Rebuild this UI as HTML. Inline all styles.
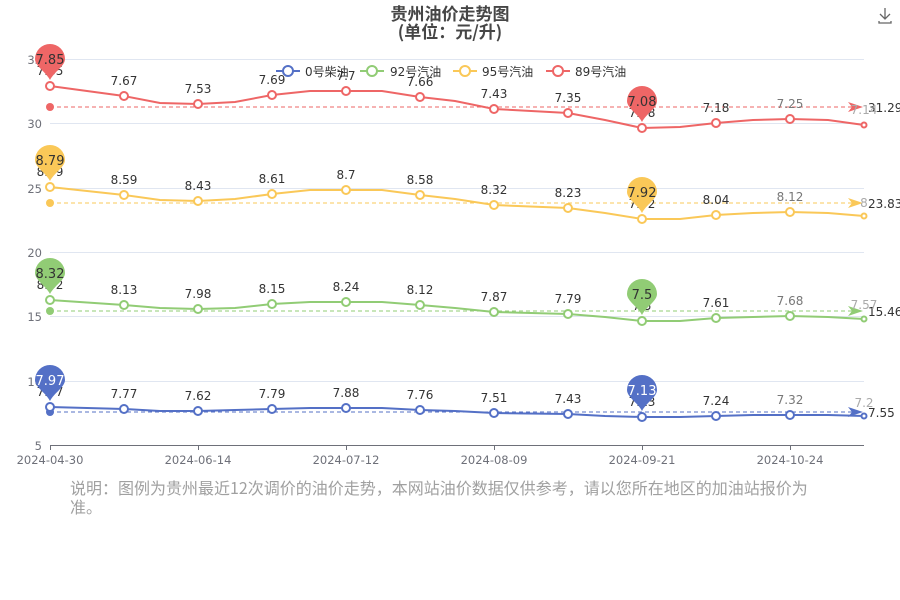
<!DOCTYPE html><html><head><meta charset="utf-8"><style>body{margin:0;background:#fff}svg{display:block;font-family:"DejaVu Sans","Noto Sans CJK SC",sans-serif}</style></head><body>
<svg width="900" height="600" viewBox="0 0 900 600">
<text x="450" y="20" text-anchor="middle" font-size="17" font-weight="bold" fill="#464646" font-family="Noto Sans CJK SC,sans-serif">贵州油价走势图</text>
<text x="450" y="38" text-anchor="middle" font-size="17" font-weight="bold" fill="#464646" font-family="Noto Sans CJK SC,sans-serif">(单位：元/升)</text>
<g stroke="#666" stroke-width="1.3" fill="none"><path d="M885 8v11M880 14l5 5 5-5M879 21v2h12v-2"/></g>
<g stroke="#e0e6f1" stroke-width="1"><path d="M50 59.5H864M50 123.5H864M50 188.5H864M50 252.5H864M50 316.5H864M50 381.5H864"/></g>
<path d="M50 445.5H864" stroke="#6e7079"/>
<g stroke="#6e7079"><path d="M50.5 445v5M198.5 445v5M346.5 445v5M494.5 445v5M642.5 445v5M790.5 445v5"/></g>
<g font-size="11.5" fill="#6e7079" text-anchor="end"><text x="42" y="64">35</text><text x="42" y="128">30</text><text x="42" y="193">25</text><text x="42" y="257">20</text><text x="42" y="321">15</text><text x="42" y="386">10</text><text x="42" y="450">5</text></g>
<g font-size="11.5" fill="#6e7079" text-anchor="middle"><text x="50" y="464">2024-04-30</text><text x="198" y="464">2024-06-14</text><text x="346" y="464">2024-07-12</text><text x="494" y="464">2024-08-09</text><text x="642" y="464">2024-09-21</text><text x="790" y="464">2024-10-24</text></g>
<g font-size="12" fill="#333" stroke-width="2">
<path d="M276 71h24" stroke="#5470c6"/><circle cx="288" cy="71" r="5" fill="#fff" stroke="#5470c6"/><text x="305" y="76" stroke="none">0号柴油</text>
<path d="M360 71h24" stroke="#91cc75"/><circle cx="372" cy="71" r="5" fill="#fff" stroke="#91cc75"/><text x="390" y="76" stroke="none">92号汽油</text>
<path d="M453 71h24" stroke="#fac858"/><circle cx="465" cy="71" r="5" fill="#fff" stroke="#fac858"/><text x="482" y="76" stroke="none">95号汽油</text>
<path d="M546 71h24" stroke="#ee6666"/><circle cx="558" cy="71" r="5" fill="#fff" stroke="#ee6666"/><text x="575" y="76" stroke="none">89号汽油</text>
</g>
<g stroke-dasharray="4,3" stroke-width="1">
<path d="M50 107H855" stroke="#ee6666"/><path d="M50 203H855" stroke="#fac858"/><path d="M50 311H855" stroke="#91cc75"/><path d="M50 412H855" stroke="#5470c6"/></g>
<circle cx="50" cy="107" r="4" fill="#ee6666"/><circle cx="50" cy="203" r="4" fill="#fac858"/><circle cx="50" cy="311" r="4" fill="#91cc75"/><circle cx="50" cy="412" r="4" fill="#5470c6"/>
<path d="M848 102l15 5-15 5 4-5z" fill="#ee6666"/><path d="M848 198l15 5-15 5 4-5z" fill="#fac858"/><path d="M848 306l15 5-15 5 4-5z" fill="#91cc75"/><path d="M848 407l15 5-15 5 4-5z" fill="#5470c6"/>
<g font-size="12" fill="#333"><text x="868" y="112">31.29</text><text x="868" y="208">23.83</text><text x="868" y="316">15.46</text><text x="868" y="417">7.55</text></g>
<g fill="none" stroke-width="2">
<polyline stroke="#ee6666" points="50,86 124,96 160,103 198,104 235,102 272,95 310,91 346,91 382,91 420,97 455,101 494,109 568,113 605,120 642,128 680,127 716,123 753,120 790,119 828,120 864,125"/>
<polyline stroke="#fac858" points="50,187 124,195 160,200 198,201 235,199 272,194 310,190 346,190 382,190 420,195 455,199 494,205 568,208 605,213 642,219 680,219 716,215 753,213 790,212 828,213 864,216"/>
<polyline stroke="#91cc75" points="50,300 124,305 160,308 198,309 235,308 272,304 310,302 346,302 382,302 420,305 455,308 494,312 568,314 605,317 642,321 680,321 716,318 753,317 790,316 828,317 864,319"/>
<polyline stroke="#5470c6" points="50,407 124,409 160,411 198,411 235,410 272,409 310,408 346,408 382,408 420,410 455,411 494,413 568,414 605,416 642,417 680,417 716,416 753,415 790,415 828,415 864,416"/>
</g>
<g fill="#fff" stroke-width="2">
<g stroke="#ee6666"><circle cx="50" cy="86" r="4"/><circle cx="124" cy="96" r="4"/><circle cx="198" cy="104" r="4"/><circle cx="272" cy="95" r="4"/><circle cx="346" cy="91" r="4"/><circle cx="420" cy="97" r="4"/><circle cx="494" cy="109" r="4"/><circle cx="568" cy="113" r="4"/><circle cx="642" cy="128" r="4"/><circle cx="716" cy="123" r="4"/><circle cx="790" cy="119" r="4"/><circle cx="864" cy="125" r="2.5"/></g>
<g stroke="#fac858"><circle cx="50" cy="187" r="4"/><circle cx="124" cy="195" r="4"/><circle cx="198" cy="201" r="4"/><circle cx="272" cy="194" r="4"/><circle cx="346" cy="190" r="4"/><circle cx="420" cy="195" r="4"/><circle cx="494" cy="205" r="4"/><circle cx="568" cy="208" r="4"/><circle cx="642" cy="219" r="4"/><circle cx="716" cy="215" r="4"/><circle cx="790" cy="212" r="4"/><circle cx="864" cy="216" r="2.5"/></g>
<g stroke="#91cc75"><circle cx="50" cy="300" r="4"/><circle cx="124" cy="305" r="4"/><circle cx="198" cy="309" r="4"/><circle cx="272" cy="304" r="4"/><circle cx="346" cy="302" r="4"/><circle cx="420" cy="305" r="4"/><circle cx="494" cy="312" r="4"/><circle cx="568" cy="314" r="4"/><circle cx="642" cy="321" r="4"/><circle cx="716" cy="318" r="4"/><circle cx="790" cy="316" r="4"/><circle cx="864" cy="319" r="2.5"/></g>
<g stroke="#5470c6"><circle cx="50" cy="407" r="4"/><circle cx="124" cy="409" r="4"/><circle cx="198" cy="411" r="4"/><circle cx="272" cy="409" r="4"/><circle cx="346" cy="408" r="4"/><circle cx="420" cy="410" r="4"/><circle cx="494" cy="413" r="4"/><circle cx="568" cy="414" r="4"/><circle cx="642" cy="417" r="4"/><circle cx="716" cy="416" r="4"/><circle cx="790" cy="415" r="4"/><circle cx="864" cy="416" r="2.5"/></g>
</g>
<g font-size="12" fill="#333" text-anchor="middle">
<text x="50" y="75">7.85</text><text x="124" y="85">7.67</text><text x="198" y="93">7.53</text><text x="272" y="84">7.69</text><text x="346" y="80">7.7</text><text x="420" y="86">7.66</text><text x="494" y="98">7.43</text><text x="568" y="102">7.35</text><text x="642" y="117">7.08</text><text x="716" y="112">7.18</text><text x="790" y="108" fill="#777">7.25</text><text x="864" y="114" fill="#aaa">7.14</text>
<text x="50" y="176">8.79</text><text x="124" y="184">8.59</text><text x="198" y="190">8.43</text><text x="272" y="183">8.61</text><text x="346" y="179">8.7</text><text x="420" y="184">8.58</text><text x="494" y="194">8.32</text><text x="568" y="197">8.23</text><text x="642" y="208">7.92</text><text x="716" y="204">8.04</text><text x="790" y="201" fill="#777">8.12</text><text x="864" y="207" fill="#aaa">8</text>
<text x="50" y="289">8.32</text><text x="124" y="294">8.13</text><text x="198" y="298">7.98</text><text x="272" y="293">8.15</text><text x="346" y="291">8.24</text><text x="420" y="294">8.12</text><text x="494" y="301">7.87</text><text x="568" y="303">7.79</text><text x="642" y="310">7.5</text><text x="716" y="307">7.61</text><text x="790" y="305" fill="#777">7.68</text><text x="864" y="309" fill="#aaa">7.57</text>
<text x="50" y="396">7.97</text><text x="124" y="398">7.77</text><text x="198" y="400">7.62</text><text x="272" y="398">7.79</text><text x="346" y="397">7.88</text><text x="420" y="399">7.76</text><text x="494" y="402">7.51</text><text x="568" y="403">7.43</text><text x="642" y="406">7.13</text><text x="716" y="405">7.24</text><text x="790" y="404" fill="#777">7.32</text><text x="864" y="407" fill="#aaa">7.2</text>
</g>
<g>
<path d="M50 80C46 72 35 66 35 59A15 15 0 1 1 65 59C65 66 54 72 50 80Z" fill="#ee6666"/>
<path d="M642 122C638 114 627 108 627 101A15 15 0 1 1 657 101C657 108 646 114 642 122Z" fill="#ee6666"/>
<path d="M50 181C46 173 35 167 35 160A15 15 0 1 1 65 160C65 167 54 173 50 181Z" fill="#fac858"/>
<path d="M642 213C638 205 627 199 627 192A15 15 0 1 1 657 192C657 199 646 205 642 213Z" fill="#fac858"/>
<path d="M50 294C46 286 35 280 35 273A15 15 0 1 1 65 273C65 280 54 286 50 294Z" fill="#91cc75"/>
<path d="M642 315C638 307 627 301 627 294A15 15 0 1 1 657 294C657 301 646 307 642 315Z" fill="#91cc75"/>
<path d="M50 401C46 393 35 387 35 380A15 15 0 1 1 65 380C65 387 54 393 50 401Z" fill="#5470c6"/>
<path d="M642 411C638 403 627 397 627 390A15 15 0 1 1 657 390C657 397 646 403 642 411Z" fill="#5470c6"/>
</g>
<g font-size="13" text-anchor="middle" fill="#333">
<text x="50" y="64">7.85</text><text x="642" y="106">7.08</text><text x="50" y="165">8.79</text><text x="642" y="197">7.92</text><text x="50" y="278">8.32</text><text x="642" y="299">7.5</text>
<text x="50" y="385" fill="#fff">7.97</text><text x="642" y="395" fill="#fff">7.13</text></g>
<g font-size="16" fill="#a0a0a0" font-family="Noto Sans CJK SC,sans-serif"><text x="70" y="494">说明：图例为贵州最近12次调价的油价走势，本网站油价数据仅供参考，请以您所在地区的加油站报价为</text><text x="70" y="513">准。</text></g>
</svg>
</body></html>
